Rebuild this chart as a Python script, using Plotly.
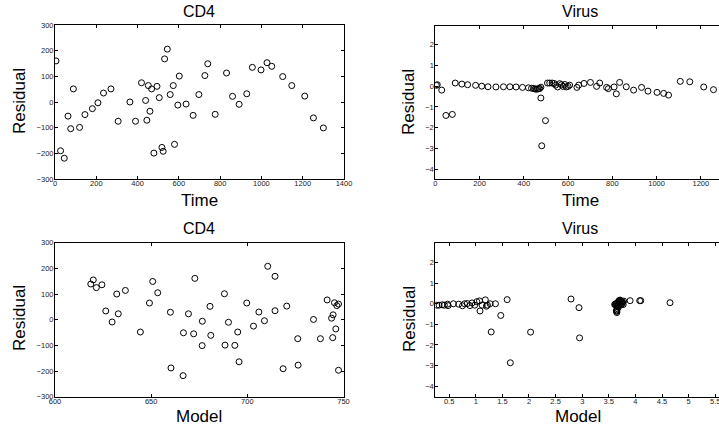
import plotly.graph_objects as go

W, H = 719, 431

# ---- CD4 residual vs time ----
cd4_time = [5, 27, 45, 63, 76, 89, 119, 145, 181, 208, 235, 271, 306, 363, 390, 419, 439, 445,
            452, 460, 468, 479, 494, 505, 518, 524, 531, 544, 558, 573, 579, 595, 602, 635, 669,
            697, 726, 740, 776, 831, 860, 892, 929, 956, 998, 1027, 1050, 1103, 1147, 1210, 1252, 1300]
cd4_time_res = [160, -190, -219, -55, -104, 51, -99, -49, -26, -3, 35, 51, -75, 0, -75, 75, 6, -71,
                64, -36, 51, -199, 61, 17, -177, -192, 168, 206, 29, 64, -165, -12, 101, -8, -52,
                29, 103, 149, -48, 113, 22, -9, 32, 135, 125, 153, 139, 99, 64, 23, -62, -101]

# ---- CD4 residual vs model ----
cd4_model = [618.6, 619.9, 621.5, 624.4, 626.4, 629.7, 632.1, 632.9, 636.6, 644.4, 649.1, 650.8,
             653.4, 660.0, 660.3, 666.8, 666.6, 669.4, 672.1, 672.7, 676.5, 676.6, 680.6, 681.0,
             688.1, 688.4, 690.2, 693.5, 695.0, 695.7, 699.7, 703.2, 706.0, 708.9, 710.6, 714.4,
             714.4, 718.6, 720.5, 726.2, 726.4, 734.4, 738.0, 741.5, 743.8, 744.4, 744.6, 745.3,
             746.0, 746.5, 747.4, 747.4]
cd4_model_res = [139, 155, 125, 136, 34, -9, 100, 23, 114, -48, 65, 149, 105, 29, -188, -51, -218,
                 23, -55, 161, -101, -6, 52, -61, 101, -99, -10, -100, -48, -164, 65, -25, 30, -4,
                 208, 169, 35, -191, 53, -74, -177, 1, -74, 77, 6, -70, 19, 66, -36, 55, 61, -197]

# ---- Virus residual vs time ----
vir_time = [4.5, 9, 29, 48, 77, 90, 120, 146, 182, 210, 238, 274, 308, 337, 365, 394, 421,
            435, 444, 451, 457, 463, 468, 472, 477, 477, 481, 498,
            507, 517, 528, 537, 544, 553, 562, 570, 577, 585, 592, 600, 607,
            640, 648, 672, 701, 729, 743, 774, 782, 808, 818, 833, 863, 896, 932, 961, 1002,
            1032, 1054, 1107, 1150, 1213, 1257]
vir_time_res = [0.04, 0.07, -0.19, -1.41, -1.36, 0.15, 0.10, 0.07, 0.04, 0.0, -0.03, -0.04, -0.03,
                -0.03, -0.04, -0.06, -0.08,
                -0.10, -0.11, -0.14, -0.14, -0.14, -0.12, -0.11, -0.05, -0.57, -2.87, -1.66,
                0.15, 0.15, 0.15, 0.13, 0.05, -0.04, 0.12, 0.07, -0.01, 0.08, -0.04, -0.01, 0.05,
                -0.06, 0.05, 0.13, 0.18, -0.01, 0.15, -0.06, -0.12, -0.04, -0.37, 0.18, -0.03,
                -0.19, -0.06, -0.24, -0.30, -0.35, -0.43, 0.23, 0.21, -0.04, -0.17]

# ---- Virus residual vs model ----
vir_model = [0.27, 0.31, 0.37, 0.41, 0.47, 0.48, 0.58, 0.68, 0.75, 0.79, 0.84, 0.89, 0.93, 0.98,
             1.02, 1.07, 1.08, 1.12, 1.18, 1.20, 1.22, 1.27, 1.37,
             1.29, 2.03, 1.47, 1.65, 2.95,
             1.59, 2.79, 2.94, 3.90, 4.08, 4.10, 4.65,
             3.72, 3.70, 3.66, 3.68, 3.74, 3.71, 3.62, 3.76, 3.69, 3.64, 3.73, 3.67, 3.78, 3.71,
             3.75, 3.69, 3.63, 3.66, 3.77, 3.65, 3.70, 3.72, 3.66, 3.65, 3.64, 3.65, 3.61, 3.68]
vir_model_res = [-0.07, -0.07, -0.05, -0.07, -0.02, -0.09, 0.0, -0.02, -0.10, 0.0, 0.01, -0.09,
                 0.04, -0.07, 0.10, 0.14, -0.35, -0.07, 0.19, -0.12, -0.07, 0.0, 0.0,
                 -1.37, -1.38, -0.57, -2.87, -1.66,
                 0.20, 0.23, -0.19, 0.15, 0.15, 0.15, 0.05,
                 0.15, 0.13, 0.05, -0.04, 0.12, 0.07, -0.01, 0.08, -0.04, -0.01, 0.05, -0.06, 0.13,
                 0.18, -0.01, 0.15, -0.06, -0.12, -0.04, -0.37, -0.03, -0.06, -0.24, -0.30, -0.35,
                 -0.43, -0.04, -0.17]

titles = ["CD4", "Virus", "CD4", "Virus"]
xlabels = ["Time", "Time", "Model", "Model"]
ylabel = "Residual"

FONT = "Liberation Sans, Arial, Helvetica, sans-serif"

def px_x(p):
    return p / W

def px_y(p):
    return 1 - p / H

fig = go.Figure()
marker = dict(symbol="circle-open", size=6, color="black", line=dict(width=1, color="black"))
series = [(cd4_time, cd4_time_res), (vir_time, vir_time_res),
          (cd4_model, cd4_model_res), (vir_model, vir_model_res)]
for i, (xs, ys) in enumerate(series):
    sfx = "" if i == 0 else str(i + 1)
    fig.add_trace(go.Scatter(x=xs, y=ys, mode="markers", marker=marker,
                             xaxis="x" + sfx, yaxis="y" + sfx, showlegend=False,
                             hoverinfo="skip", cliponaxis=True))

# panel pixel boxes: (left, right, top, bottom)
boxes = [(55, 344, 25, 179), (435.3, 719, 25.5, 179),
         (55, 343.5, 242.7, 396.7), (435.3, 719, 243.3, 396.7)]
xranges = [[0, 1400], [0, 1282], [600, 750], [0.24, 5.57]]
yranges = [[-300, 300], [-4.47, 2.92], [-300, 300], [-4.52, 2.94]]
xdticks = [200, 200, 50, 0.5]
xticks0 = [0, 0, 600, 0.5]
ydticks = [100, 1, 100, 1]
yticks0 = [-300, -4, -300, -4]

axcommon = dict(showgrid=False, zeroline=False, showline=True, linecolor="black", linewidth=1,
                ticks="inside", ticklen=3, tickwidth=1, tickcolor="black", automargin=False,
                ticklabeloverflow="allow",
                tickfont=dict(family=FONT, size=7.5, color="#222"))

layout = {}
for i in range(4):
    l, r, t, b = boxes[i]
    sfx = "" if i == 0 else str(i + 1)
    layout["xaxis" + sfx] = dict(axcommon, domain=[px_x(l), px_x(r)], range=xranges[i],
                                 anchor="y" + sfx, tick0=xticks0[i], dtick=xdticks[i],
                                 mirror="ticks", ticklabelstandoff=-3)
    layout["yaxis" + sfx] = dict(axcommon, domain=[px_y(b), px_y(t)], range=yranges[i],
                                 anchor="x" + sfx, tick0=yticks0[i], dtick=ydticks[i],
                                 mirror="ticks" if i in (0, 2) else False,
                                 ticklabelstandoff=-1)

ann = []
title_pos = [(199, 12), (580, 12), (199, 228), (580, 228)]
xlab_pos = [(199, 200), (580, 200), (199, 416), (578, 416)]
ylab_pos = [(19, 101), (409, 102), (19, 318), (409, 319)]
for i in range(4):
    ann.append(dict(text=titles[i], x=px_x(title_pos[i][0]), y=px_y(title_pos[i][1]),
                    xref="paper", yref="paper", showarrow=False, xanchor="center",
                    yanchor="middle", font=dict(family=FONT, size=16, color="black")))
    ann.append(dict(text=xlabels[i], x=px_x(xlab_pos[i][0]), y=px_y(xlab_pos[i][1]),
                    xref="paper", yref="paper", showarrow=False, xanchor="center",
                    yanchor="middle", font=dict(family=FONT, size=17, color="black")))
    ann.append(dict(text=ylabel, x=px_x(ylab_pos[i][0]), y=px_y(ylab_pos[i][1]),
                    xref="paper", yref="paper", showarrow=False, xanchor="center",
                    yanchor="middle", textangle=-90,
                    font=dict(family=FONT, size=17, color="black")))

fig.update_layout(width=W, height=H, margin=dict(l=0, r=0, t=0, b=0, autoexpand=False),
                  paper_bgcolor="white", plot_bgcolor="white", annotations=ann, **layout)

fig.write_html("out.html", config={"displayModeBar": False},
               post_script="document.body.style.margin='0';document.body.style.overflow='hidden';")
